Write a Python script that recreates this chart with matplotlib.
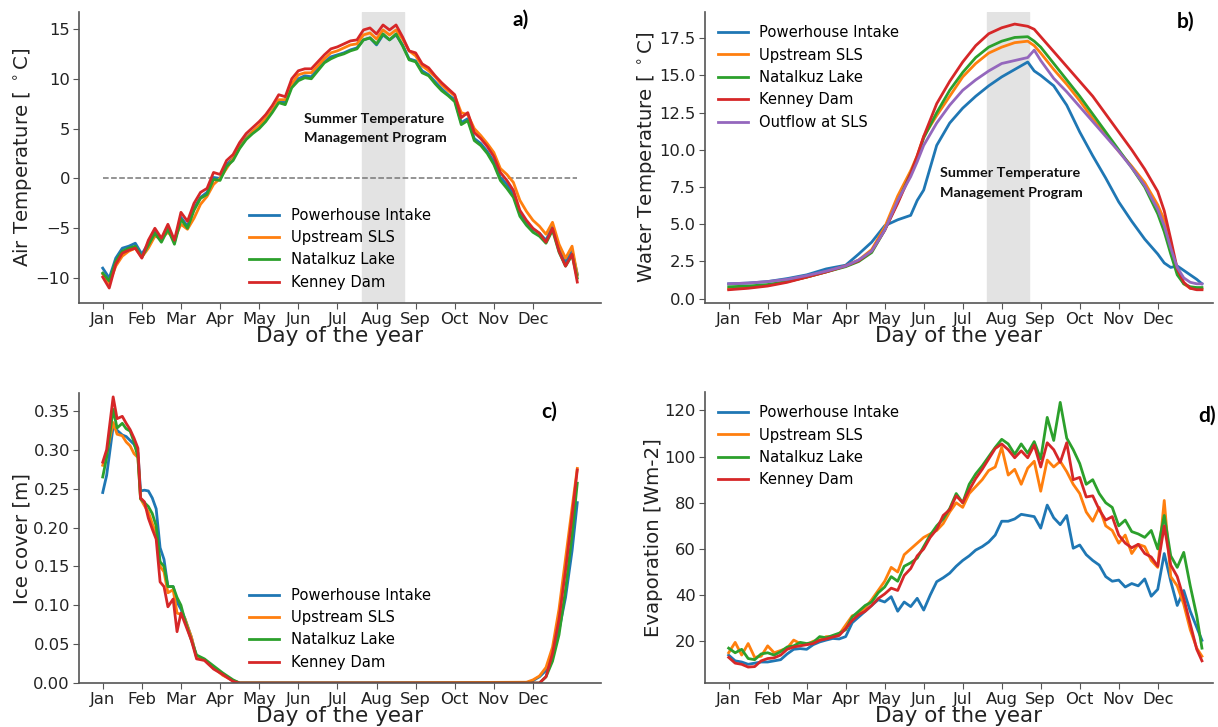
import matplotlib
matplotlib.use('Agg')
import matplotlib.pyplot as plt

# Month ticks (the original plot puts a label every 30 days)
month_ticks = [0, 30, 60, 90, 120, 150, 180, 210, 240, 270, 300, 330]
month_labels = ['Jan', 'Feb', 'Mar', 'Apr', 'May', 'Jun',
                'Jul', 'Aug', 'Sep', 'Oct', 'Nov', 'Dec']

stations = ['Powerhouse Intake', 'Upstream SLS', 'Natalkuz Lake', 'Kenney Dam']
colors = ['#1f77b4', '#ff7f0e', '#2ca02c', '#d62728']

# Summer Temperature Management Program window (day of year)
stmp_start = 199
stmp_end = 231

# ---------------- a) air temperature, every 5 days ----------------
days_a = list(range(0, 361, 5)) + [364]

air_powerhouse = [
    -9.0, -10.0, -8.0, -7.0, -6.8, -6.5, -7.6, -6.5, -5.3, -6.2,
    -4.9, -6.4, -3.9, -4.8, -3.0, -1.9, -1.4, 0.1, 0.0, 1.4,
    2.0, 3.2, 4.1, 4.7, 5.2, 5.9, 6.8, 7.8, 7.6, 9.3,
    10.0, 10.3, 10.2, 11.0, 11.7, 12.2, 12.4, 12.6, 12.9, 13.1,
    13.9, 14.1, 13.4, 14.4, 13.9, 14.4, 13.4, 12.0, 11.8, 10.8,
    10.4, 9.7, 9.0, 8.4, 7.9, 5.6, 6.0, 4.0, 3.5, 2.7,
    1.7, 0.1, -0.6, -1.6, -3.5, -4.4, -5.1, -5.5, -6.2, -4.8,
    -7.0, -8.4, -7.3, -9.6]
air_upstream = [
    -9.6, -10.5, -8.8, -7.8, -7.3, -7.0, -7.9, -7.0, -5.8, -6.0,
    -5.4, -6.1, -4.6, -5.1, -4.0, -2.6, -1.8, -0.6, 0.0, 1.0,
    2.0, 3.1, 4.0, 4.7, 5.3, 6.0, 6.8, 7.9, 7.9, 9.5,
    10.4, 10.6, 10.6, 11.3, 12.0, 12.6, 12.8, 13.1, 13.4, 13.5,
    14.4, 14.6, 14.0, 14.9, 14.4, 14.9, 14.0, 12.8, 12.3, 11.3,
    10.8, 10.2, 9.4, 8.8, 8.3, 6.6, 6.4, 5.0, 4.3, 3.5,
    2.6, 1.0, 0.4, -0.4, -2.2, -3.3, -4.2, -4.8, -5.6, -4.4,
    -6.6, -8.0, -6.8, -9.7]
air_natalkuz = [
    -9.5, -10.3, -8.3, -7.3, -7.0, -6.8, -7.9, -6.7, -5.5, -6.4,
    -5.1, -6.6, -4.1, -5.0, -3.2, -2.0, -1.6, -0.1, -0.2, 1.2,
    1.8, 3.0, 3.9, 4.5, 5.0, 5.7, 6.6, 7.6, 7.4, 9.1,
    9.8, 10.1, 10.0, 10.8, 11.6, 12.0, 12.3, 12.5, 12.8, 13.0,
    13.9, 14.1, 13.5, 14.5, 13.9, 14.5, 13.3, 11.9, 11.7, 10.6,
    10.3, 9.5, 8.8, 8.3, 7.7, 5.4, 5.8, 3.8, 3.3, 2.5,
    1.4, -0.2, -1.0, -1.9, -3.8, -4.7, -5.4, -5.8, -6.5, -5.2,
    -7.4, -8.8, -7.7, -10.0]
air_kenney = [
    -9.9, -11.0, -8.6, -7.5, -7.2, -7.0, -8.0, -6.2, -5.0, -6.0,
    -4.6, -6.2, -3.4, -4.3, -2.5, -1.4, -1.0, 0.6, 0.4, 1.8,
    2.4, 3.6, 4.5, 5.1, 5.7, 6.4, 7.3, 8.4, 8.2, 10.0,
    10.8, 11.0, 11.0, 11.7, 12.4, 13.0, 13.2, 13.5, 13.8, 13.9,
    14.9, 15.1, 14.5, 15.4, 14.9, 15.4, 14.2, 12.8, 12.6, 11.5,
    11.1, 10.3, 9.6, 9.0, 8.4, 6.1, 6.6, 4.6, 4.0, 3.2,
    2.2, 0.6, -0.2, -1.2, -3.2, -4.2, -5.0, -5.5, -6.4, -5.0,
    -7.3, -8.8, -7.6, -10.4]

# ---------------- b) water temperature ----------------
days_b = [0, 15, 30, 45, 60, 75, 90, 100, 110, 120, 130, 140, 145, 150,
          160, 170, 180, 190, 200, 210, 220, 230, 235, 240, 250, 260, 270,
          280, 290, 300, 310, 320, 330, 335, 340, 345, 350, 355, 360, 364]

water_powerhouse = [1.0, 1.05, 1.15, 1.35, 1.6, 2.0, 2.25, 3.0, 3.8, 4.9, 5.3, 5.6,
                    6.6, 7.3, 10.3, 11.8, 12.8, 13.6, 14.3, 14.9, 15.4, 15.9, 15.3,
                    15.0, 14.3, 13.0, 11.2, 9.6, 8.1, 6.5, 5.2, 4.0, 3.0, 2.4, 2.1,
                    2.2, 1.9, 1.6, 1.3, 1.0]
water_upstream = [0.65, 0.75, 0.9, 1.15, 1.45, 1.8, 2.2, 2.6, 3.3, 4.8, 6.9, 8.6,
                  9.6, 10.9, 12.3, 13.6, 14.9, 15.8, 16.5, 16.9, 17.2, 17.3, 17.0,
                  16.5, 15.4, 14.4, 13.3, 12.1, 11.0, 9.9, 8.9, 7.8, 6.3, 5.3, 3.6,
                  1.9, 1.0, 0.7, 0.65, 0.65]
water_natalkuz = [0.8, 0.85, 0.95, 1.15, 1.45, 1.8, 2.15, 2.5, 3.1, 4.6, 6.5, 8.4,
                  9.5, 10.8, 12.5, 14.0, 15.2, 16.2, 16.9, 17.3, 17.55, 17.6, 17.3,
                  16.9, 15.8, 14.7, 13.6, 12.4, 11.2, 10.0, 8.8, 7.5, 5.7, 4.5, 3.0,
                  1.6, 1.0, 0.8, 0.75, 0.75]
water_kenney = [0.6, 0.7, 0.85, 1.1, 1.45, 1.8, 2.2, 2.55, 3.2, 4.6, 6.4, 8.4,
                9.6, 10.9, 13.1, 14.6, 15.9, 17.0, 17.8, 18.2, 18.45, 18.3, 18.1,
                17.6, 16.6, 15.6, 14.6, 13.6, 12.4, 11.2, 10.0, 8.7, 7.2, 5.9, 4.0,
                2.0, 1.1, 0.7, 0.6, 0.6]
water_outflow = [1.0, 1.05, 1.15, 1.3, 1.55, 1.85, 2.2, 2.6, 3.2, 4.6, 6.6, 8.2,
                 9.2, 10.3, 11.8, 13.0, 14.0, 14.7, 15.3, 15.8, 16.0, 16.2, 16.7,
                 16.0, 14.8, 13.9, 12.9, 11.9, 10.9, 9.9, 8.8, 7.6, 6.0, 4.9, 3.4,
                 2.1, 1.4, 1.1, 1.0, 1.0]

# ---------------- c) ice cover ----------------
days_c = [0, 3, 8, 11, 15, 18, 21, 24, 27, 29,
          32, 35, 38, 41, 44, 47, 50, 54, 57, 60,
          63, 68, 72, 78, 85, 92, 100, 105, 200, 325,
          330, 335, 340, 345, 350, 355, 360, 364]

ice_powerhouse = [0.245, 0.267, 0.33, 0.325, 0.319, 0.317, 0.312, 0.307, 0.296, 0.247,
                  0.248, 0.247, 0.238, 0.224, 0.174, 0.159, 0.124, 0.124, 0.104, 0.095,
                  0.083, 0.059, 0.033, 0.030, 0.020, 0.011, 0.003, 0.0, 0.0, 0.0,
                  0.003, 0.008, 0.016, 0.038, 0.068, 0.11, 0.17, 0.232]
ice_upstream = [0.28, 0.295, 0.335, 0.32, 0.318, 0.31, 0.305, 0.295, 0.29, 0.237,
                0.228, 0.22, 0.205, 0.192, 0.15, 0.143, 0.116, 0.12, 0.09, 0.088,
                0.083, 0.059, 0.033, 0.030, 0.02, 0.01, 0.003, 0.0, 0.0, 0.001,
                0.004, 0.009, 0.02, 0.046, 0.095, 0.16, 0.225, 0.276]
ice_natalkuz = [0.265, 0.29, 0.352, 0.328, 0.334, 0.327, 0.324, 0.31, 0.29, 0.237,
                0.232, 0.227, 0.218, 0.202, 0.156, 0.150, 0.124, 0.124, 0.11, 0.10,
                0.081, 0.055, 0.036, 0.031, 0.022, 0.013, 0.004, 0.0, 0.0, 0.0,
                0.0, 0.0, 0.008, 0.028, 0.062, 0.12, 0.19, 0.257]
ice_kenney = [0.284, 0.30, 0.368, 0.34, 0.343, 0.334, 0.326, 0.315, 0.302, 0.238,
              0.233, 0.212, 0.198, 0.185, 0.13, 0.124, 0.098, 0.108, 0.066, 0.09,
              0.077, 0.055, 0.031, 0.029, 0.018, 0.011, 0.002, 0.0, 0.0, 0.0,
              0.0, 0.0, 0.008, 0.038, 0.082, 0.145, 0.215, 0.274]

# ---------------- d) evaporation, every 5 days ----------------
days_d = list(range(0, 361, 5)) + [364]

evap_powerhouse = [
    14.0, 11.5, 11.0, 10.0, 10.5, 11.0, 11.0, 11.5, 12.0, 14.5,
    16.5, 16.8, 16.5, 18.5, 19.7, 20.5, 21.2, 21.0, 22.0, 28.0,
    30.5, 33.0, 35.5, 38.0, 37.0, 39.3, 33.0, 37.0, 35.0, 38.6,
    33.5, 40.0, 45.8, 47.5, 49.5, 52.5, 55.0, 57.0, 59.5, 61.0,
    63.0, 66.0, 72.0, 72.0, 73.0, 75.0, 74.5, 74.0, 69.0, 79.0,
    73.5, 70.5, 74.5, 60.3, 61.7, 57.5, 55.0, 53.0, 48.0, 46.0,
    46.5, 43.5, 45.0, 44.0, 47.0, 39.5, 42.5, 58.0, 46.0, 35.5,
    42.0, 33.0, 26.0, 20.4]
evap_upstream = [
    15.0, 19.5, 14.0, 19.0, 13.0, 13.5, 18.0, 15.0, 16.0, 17.0,
    20.5, 19.0, 18.5, 20.0, 20.5, 22.0, 22.0, 23.0, 27.0, 31.0,
    32.0, 34.5, 38.0, 42.0, 46.0, 52.0, 50.0, 57.5, 60.0, 62.5,
    65.0, 66.5, 68.0, 71.0, 76.0, 80.0, 78.0, 84.0, 87.0, 90.0,
    94.0, 95.5, 104.0, 92.0, 94.5, 88.0, 95.0, 98.0, 85.0, 98.5,
    95.5, 98.0, 93.5, 88.0, 84.0, 76.0, 72.0, 78.0, 70.0, 68.0,
    62.5, 66.0, 58.0, 62.0, 61.0, 55.0, 52.0, 81.0, 48.0, 44.0,
    36.0, 25.0, 17.0, 13.5]
evap_natalkuz = [
    17.0, 15.0, 16.5, 12.5, 12.0, 14.5, 15.0, 14.0, 15.5, 17.5,
    18.0, 19.5, 19.0, 19.5, 22.0, 21.5, 22.5, 23.5, 25.0, 30.5,
    33.0, 35.5, 37.0, 41.0, 43.5, 48.0, 46.0, 52.5, 54.0, 56.0,
    61.0, 66.0, 70.0, 73.0, 77.5, 84.0, 80.0, 88.0, 92.5, 96.0,
    100.0, 104.0, 107.5, 105.5, 101.0, 105.5, 101.5, 106.5, 99.0, 117.0,
    107.0, 123.5, 108.0, 103.0, 97.0, 88.0, 90.0, 84.0, 80.0, 78.0,
    70.0, 72.5, 67.5, 66.5, 65.0, 68.0, 60.0, 74.5, 57.0, 52.0,
    58.5, 44.0, 31.0, 17.0]
evap_kenney = [
    13.0, 10.5, 10.0, 8.8, 9.0, 11.5, 12.5, 12.8, 14.0, 16.5,
    17.5, 18.0, 18.5, 19.0, 20.4, 21.0, 21.8, 22.5, 25.5, 29.0,
    31.5, 33.0, 35.5, 38.5, 40.5, 43.0, 42.0, 48.5, 51.5, 57.0,
    60.0, 65.0, 68.5, 74.5, 77.0, 83.0, 80.0, 85.5, 90.5, 94.5,
    99.0, 103.5, 105.5, 103.0, 99.5, 102.5, 99.5, 105.0, 95.5, 106.0,
    103.0, 97.5, 106.0, 90.0, 91.0, 82.5, 83.0, 77.0, 72.5, 74.0,
    66.0, 62.5, 60.5, 62.0, 58.0, 56.5, 52.5, 70.0, 53.0, 48.0,
    38.6, 27.5, 16.5, 11.5]

# ---------------- figure ----------------
W, H = 1218, 727
fig = plt.figure(figsize=(W / 100, H / 100), dpi=100)


def px_axes(left, top, right, bottom):
    # place an axes by its pixel box (origin top-left)
    return fig.add_axes([left / W, 1 - bottom / H, (right - left) / W, (bottom - top) / H])


def style_axes(ax, ylabel):
    for side in ['top', 'right']:
        ax.spines[side].set_visible(False)
    for side in ['left', 'bottom']:
        ax.spines[side].set_color('#555555')
        ax.spines[side].set_linewidth(1.2)
    ax.tick_params(axis='both', labelsize=11.8, length=4, pad=2.5, color='#555555',
                   labelcolor='#222222')
    ax.set_xticks(month_ticks)
    ax.set_xticklabels(month_labels)
    ax.set_xlabel('Day of the year', fontsize=15.5, color='#222222', labelpad=-0.5)
    ax.set_ylabel(ylabel, fontsize=14.2, color='#222222', labelpad=1)


def panel_tag(ax, x, y, tag, ha='left'):
    ax.text(x, y, tag, transform=ax.transAxes, fontsize=15, fontweight='bold',
            family=['Lato', 'DejaVu Sans'], ha=ha, va='center', clip_on=False)


def stmp_note(ax, x, y):
    ax.text(x, y, 'Summer Temperature\nManagement Program', transform=ax.transAxes,
            fontsize=10.4, fontweight='bold', family=['Lato', 'DejaVu Sans'],
            ha='left', va='center', linespacing=1.75, color='#111111')


lw = 2.0

# a) Air temperature
ax_a = px_axes(79, 12, 601, 303)
ax_a.axvspan(stmp_start, stmp_end, color='#e3e3e3', zorder=0)
ax_a.plot([days_a[0], days_a[-1]], [0, 0], '--', color='#777777', lw=1.1, zorder=1)
for vals, c, name in zip([air_powerhouse, air_upstream, air_natalkuz, air_kenney], colors, stations):
    ax_a.plot(days_a, vals, color=c, lw=lw, label=name)
ax_a.set_xlim(-18.2, 382.2)
ax_a.set_ylim(-12.5, 16.7)
ax_a.set_yticks([-10, -5, 0, 5, 10, 15])
style_axes(ax_a, r'Air Temperature [ $^\circ$C]')
ax_a.legend(loc='lower center', frameon=False, fontsize=10.6)
panel_tag(ax_a, 0.831, 0.973, 'a)')
stmp_note(ax_a, 0.431, 0.60)

# b) Water temperature
ax_b = px_axes(705, 12, 1213, 303)
ax_b.axvspan(stmp_start, stmp_end, color='#e3e3e3', zorder=0)
for vals, c, name in zip([water_powerhouse, water_upstream, water_natalkuz, water_kenney], colors, stations):
    ax_b.plot(days_b, vals, color=c, lw=lw, label=name)
ax_b.plot(days_b, water_outflow, color='#9467bd', lw=lw, label='Outflow at SLS')
ax_b.set_xlim(-18.2, 372.5)
ax_b.set_ylim(-0.29, 19.26)
ax_b.set_yticks([0.0, 2.5, 5.0, 7.5, 10.0, 12.5, 15.0, 17.5])
style_axes(ax_b, r'Water Temperature [ $^\circ$C]')
ax_b.legend(loc='upper left', frameon=False, fontsize=10.6)
panel_tag(ax_b, 0.929, 0.966, 'b)')
stmp_note(ax_b, 0.463, 0.412)

# c) Ice cover
ax_c = px_axes(79, 393, 601, 683)
for vals, c, name in zip([ice_powerhouse, ice_upstream, ice_natalkuz, ice_kenney], colors, stations):
    ax_c.plot(days_c, vals, color=c, lw=lw, label=name)
ax_c.set_xlim(-18.2, 382.2)
ax_c.set_ylim(0, 0.373)
ax_c.set_yticks([0.0, 0.05, 0.10, 0.15, 0.20, 0.25, 0.30, 0.35])
ax_c.set_yticklabels(['0.00', '0.05', '0.10', '0.15', '0.20', '0.25', '0.30', '0.35'])
style_axes(ax_c, 'Ice cover [m]')
ax_c.legend(loc='lower center', frameon=False, fontsize=10.6)
panel_tag(ax_c, 0.885, 0.934, 'c)')

# d) Evaporation
ax_d = px_axes(705, 392, 1213, 683)
for vals, c, name in zip([evap_powerhouse, evap_upstream, evap_natalkuz, evap_kenney], colors, stations):
    ax_d.plot(days_d, vals, color=c, lw=lw, label=name)
ax_d.set_xlim(-18.2, 372.5)
ax_d.set_ylim(1.9, 128)
ax_d.set_yticks([20, 40, 60, 80, 100, 120])
style_axes(ax_d, 'Evaporation [Wm-2]')
ax_d.legend(loc='upper left', frameon=False, fontsize=10.6)
panel_tag(ax_d, 1.006, 0.918, 'd)', ha='right')

fig.savefig('out.png', dpi=100)
